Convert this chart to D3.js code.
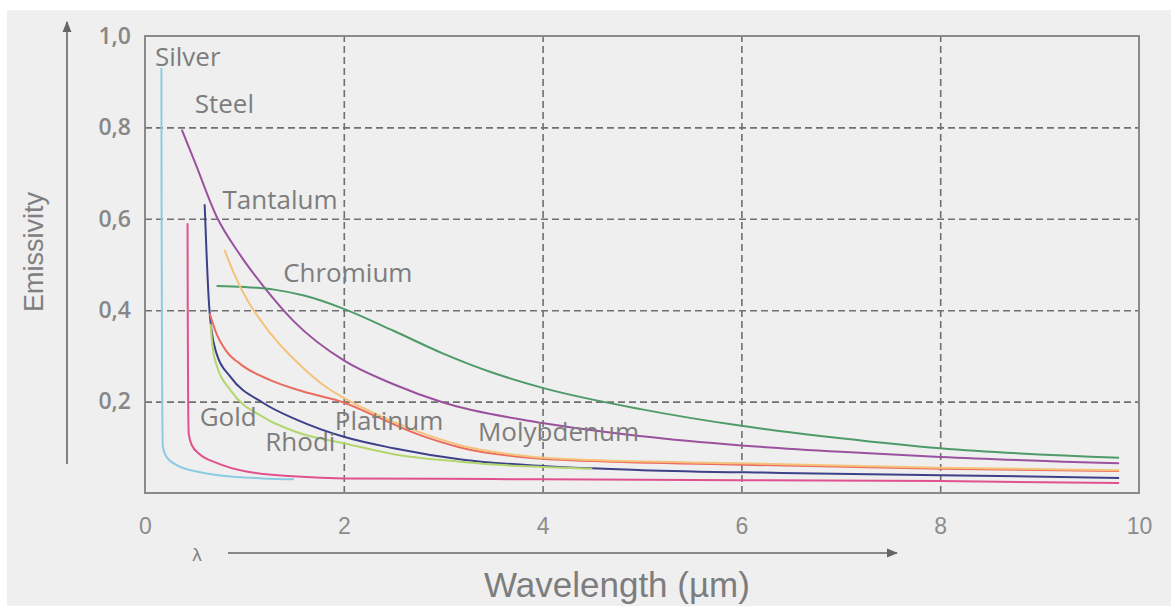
<!DOCTYPE html>
<html>
<head>
<meta charset="utf-8">
<script src="https://cdnjs.cloudflare.com/ajax/libs/d3/7.8.5/d3.min.js"></script>
<style>
  body { margin: 0; background: #fff; }
  .grid line { stroke: #707070; stroke-width: 1.6; stroke-dasharray: 7,4; }
  .grid path { display: none; }
  .ticks path, .ticks line { display: none; }
  .curve { fill: none; stroke-width: 2; }
  .lbl { fill: #7d7d7d; font-family: "Open Sans", sans-serif; font-size: 26px; }
</style>
</head>
<body>
<div id="wrapper"></div>
<script>
// tick values
const xTicks = [0, 2, 4, 6, 8, 10]
const yTicks = [0.2, 0.4, 0.6, 0.8, 1.0]

// curves: [wavelength, emissivity]
const silver = [[0.165,0.93],[0.167,0.60],[0.172,0.25],[0.18,0.10],[0.22,0.078],[0.32,0.061],[0.52,0.047],[0.86,0.036],[1.19,0.032],[1.5,0.03]]
const gold = [[0.428,0.59],[0.43,0.40],[0.434,0.2],[0.44,0.13],[0.47,0.105],[0.55,0.085],[0.72,0.066],[1.02,0.047],[1.53,0.036],[2.0,0.032],[3,0.031],[4,0.03],[6,0.028],[8,0.026],[9.8,0.022]]
const steel = [[0.37,0.795],[0.5,0.725],[0.72,0.605],[0.96,0.52],[1.2,0.45],[1.5,0.375],[2.0,0.29],[2.5,0.238],[3.0,0.198],[4.0,0.153],[5,0.124],[6,0.104],[7,0.09],[8,0.079],[9.8,0.065]]
const chromium = [[0.72,0.453],[1.0,0.451],[1.3,0.445],[1.6,0.432],[2.0,0.403],[2.5,0.355],[3.0,0.305],[3.5,0.263],[4.0,0.23],[5,0.183],[6,0.147],[7,0.12],[8,0.098],[9.8,0.077]]
const tantalum = [[0.60,0.632],[0.62,0.52],[0.645,0.41],[0.67,0.355],[0.72,0.305],[0.86,0.254],[1.19,0.197],[1.53,0.16],[2.0,0.123],[2.5,0.098],[3.2,0.073],[4.0,0.059],[5,0.05],[6.4,0.044],[8,0.039],[9.8,0.033]]
const rhodium = [[0.66,0.37],[0.68,0.32],[0.72,0.28],[0.86,0.225],[1.19,0.166],[1.53,0.133],[2.0,0.109],[2.5,0.085],[3.2,0.068],[3.6,0.061],[4.0,0.057],[4.5,0.053]]
const platinum = [[0.65,0.393],[0.72,0.348],[0.82,0.31],[0.96,0.282],[1.26,0.247],[1.59,0.222],[2.0,0.198],[2.3,0.17],[2.7,0.132],[3.2,0.098],[3.87,0.077],[4.5,0.07],[6,0.062],[8,0.053],[9.8,0.048]]
const molybdenum = [[0.80,0.532],[0.9,0.478],[1.03,0.422],[1.26,0.35],[1.53,0.286],[1.79,0.237],[2.0,0.208],[2.3,0.175],[2.7,0.138],[3.2,0.103],[3.87,0.08],[4.5,0.072],[6,0.065],[8,0.055],[9.8,0.05]]

const seriesNames = ['Silver', 'Gold', 'Steel', 'Chromium', 'Tantalum', 'Rhodium', 'Platinum', 'Molybdenum']
const seriesData = [silver, gold, steel, chromium, tantalum, rhodium, platinum, molybdenum]
const seriesColors = ['#8ccbe4', '#e0528e', '#9a519e', '#4f9a69', '#3d418a', '#b3d66c', '#ec6b5f', '#f5c27c']

// curve labels as drawn: text, wavelength, emissivity (baseline-left)
const labelTexts = ['Silver', 'Steel', 'Tantalum', 'Chromium', 'Gold', 'Rhodi', 'Platinum', 'Molybdenum']
const labelX = [0.10, 0.50, 0.78, 1.39, 0.55, 1.21, 1.91, 3.35]
const labelY = [0.934, 0.832, 0.622, 0.462, 0.147, 0.091, 0.138, 0.114]

function draw() {
  const width = 1171
  const height = 608
  const plot = { left: 145, top: 36, right: 1139, bottom: 493 }

  const svg = d3.select('#wrapper').append('svg')
    .attr('width', width)
    .attr('height', height)

  // background panel
  svg.append('rect')
    .attr('x', 7).attr('y', 10)
    .attr('width', width - 7).attr('height', 596)
    .attr('fill', '#efefef')

  const x = d3.scaleLinear().domain([0, 10]).range([plot.left, plot.right])
  const y = d3.scaleLinear().domain([0, 1]).range([plot.bottom, plot.top])

  const pw = plot.right - plot.left
  const ph = plot.bottom - plot.top

  // grid
  svg.append('g').attr('class', 'grid')
    .attr('transform', `translate(0,${plot.bottom})`)
    .call(d3.axisBottom(x).tickValues(xTicks.slice(1, -1)).tickSize(-ph).tickFormat(''))
  svg.append('g').attr('class', 'grid')
    .attr('transform', `translate(${plot.left},0)`)
    .call(d3.axisLeft(y).tickValues(yTicks.slice(0, -1)).tickSize(-pw).tickFormat(''))

  // frame
  svg.append('rect')
    .attr('x', plot.left).attr('y', plot.top)
    .attr('width', pw).attr('height', ph)
    .attr('fill', 'none')
    .attr('stroke', '#8a8a8a')
    .attr('stroke-width', 2)

  // tick labels
  const comma = d3.formatLocale({ decimal: ',', thousands: '.', grouping: [3], currency: ['', ''] }).format('.1f')
  const xAxis = svg.append('g').attr('class', 'ticks')
    .attr('transform', `translate(0,${plot.bottom})`)
    .call(d3.axisBottom(x).tickValues(xTicks).tickSize(0).tickPadding(25).tickFormat(d3.format('d')))
  xAxis.selectAll('text')
    .attr('fill', '#8c8c8c')
    .style('font-family', '"Liberation Sans", Arial, sans-serif')
    .style('font-size', '23px')

  const yAxis = svg.append('g').attr('class', 'ticks')
    .attr('transform', `translate(${plot.left - 14},0)`)
    .call(d3.axisLeft(y).tickValues(yTicks).tickSize(0).tickPadding(0).tickFormat(comma))
  yAxis.selectAll('text')
    .attr('fill', '#878787')
    .style('font-family', '"Open Sans", sans-serif')
    .style('font-size', '23px')
    .style('font-weight', 600)

  // curves
  const line = d3.line()
    .x(d => x(d[0]))
    .y(d => y(d[1]))
    .curve(d3.curveMonotoneX)

  svg.append('g').selectAll('path')
    .data(seriesData)
    .join('path')
      .attr('class', 'curve')
      .attr('stroke', (d, i) => seriesColors[i])
      .attr('d', line)

  // labels
  svg.append('g').selectAll('text')
    .data(labelTexts)
    .join('text')
      .attr('class', 'lbl')
      .attr('x', (d, i) => x(labelX[i]))
      .attr('y', (d, i) => y(labelY[i]))
      .text(d => d)

  // axis arrows
  const defs = svg.append('defs')
  defs.append('marker')
    .attr('id', 'arrow')
    .attr('viewBox', '0 0 10 10')
    .attr('refX', 9).attr('refY', 5)
    .attr('markerWidth', 7).attr('markerHeight', 7)
    .attr('orient', 'auto')
    .append('path').attr('d', 'M0,1 L10,5 L0,9 Z').attr('fill', '#666')

  svg.append('line')
    .attr('x1', 67).attr('y1', 464).attr('x2', 67).attr('y2', 22)
    .attr('stroke', '#666').attr('stroke-width', 1.6)
    .attr('marker-end', 'url(#arrow)')
  svg.append('line')
    .attr('x1', 228).attr('y1', 553).attr('x2', 897).attr('y2', 553)
    .attr('stroke', '#666').attr('stroke-width', 1.6)
    .attr('marker-end', 'url(#arrow)')

  svg.append('text')
    .attr('x', 197).attr('y', 561)
    .attr('text-anchor', 'middle')
    .attr('fill', '#808080')
    .style('font-family', '"Liberation Sans", Arial, sans-serif')
    .style('font-size', '19px')
    .text('λ')

  svg.append('text')
    .attr('x', 617).attr('y', 597)
    .attr('text-anchor', 'middle')
    .attr('fill', '#7d7d7d')
    .style('font-family', '"Liberation Sans", Arial, sans-serif')
    .style('font-size', '35px')
    .text('Wavelength (µm)')

  svg.append('text')
    .attr('transform', 'translate(43,252) rotate(-90)')
    .attr('text-anchor', 'middle')
    .attr('fill', '#808080')
    .style('font-family', '"Liberation Sans", Arial, sans-serif')
    .style('font-size', '27px')
    .text('Emissivity')
}
draw()
</script>
</body>
</html>
